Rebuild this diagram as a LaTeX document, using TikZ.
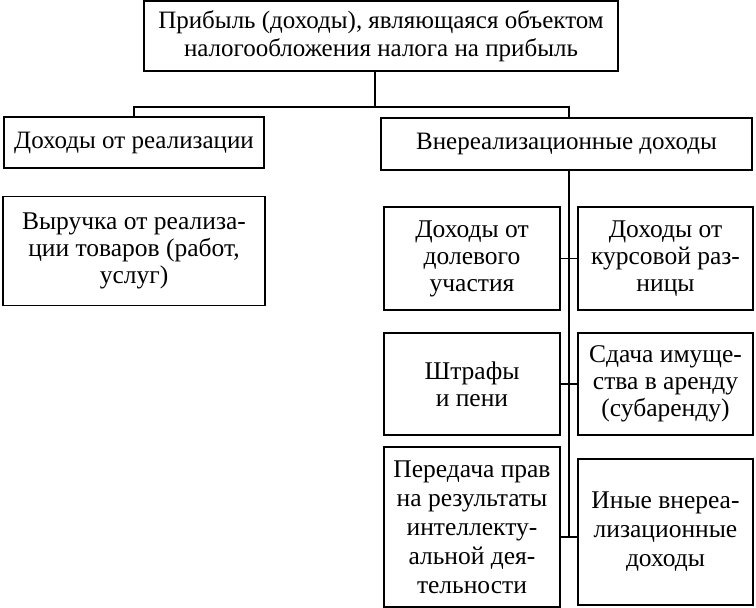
\documentclass[tikz,border=0pt]{standalone}
\usepackage{fontspec}
\setmainfont{Liberation Serif}
\begin{document}
\begin{tikzpicture}[x=1pt,y=-1pt,
  box/.style={draw, line width=1.4pt, align=center, inner sep=0pt, font=\fontsize{25.5}{27}\selectfont},
  big/.style={font=\fontsize{25}{28}\selectfont},
  conn/.style={line width=1.4pt}]
\useasboundingbox[fill=white] (0,0) rectangle (756,608);
\node[box, big, minimum width=474pt, minimum height=70pt] (top) at (381,36) {Прибыль (доходы), являющаяся объектом\\налогообложения налога на прибыль};
\node[box, big, minimum width=260pt, minimum height=51pt] (real) at (134,142.5) {Доходы от реализации};
\node[box, big, minimum width=371pt, minimum height=52pt] (vner) at (566.5,144) {Внереализационные доходы};
\node[box, minimum width=262pt, minimum height=109pt] (vyr) at (134,251) {Выручка от реализа-\\ции товаров (работ,\\услуг)};
\node[box, minimum width=176pt, minimum height=103pt] (dol) at (472,258.5) {Доходы от\\долевого\\участия};
\node[box, minimum width=175pt, minimum height=103pt] (kurs) at (665.5,258.5) {Доходы от\\курсовой раз-\\ницы};
\node[box, minimum width=176pt, minimum height=102pt] (shtr) at (472,384) {Штрафы\\и пени};
\node[box, minimum width=175pt, minimum height=102pt] (arenda) at (665.5,384) {Сдача имуще-\\ства в аренду\\(субаренду)};
\node[box, minimum width=176pt, minimum height=160pt, font=\fontsize{25.5}{29}\selectfont] (prava) at (472,527) {Передача прав\\на результаты\\интеллекту-\\альной дея-\\тельности};
\node[box, minimum width=175pt, minimum height=146pt, font=\fontsize{25.5}{29}\selectfont] (inye) at (665.5,532) {Иные внереа-\\лизационные\\доходы};
\coordinate (bar) at (375,107);
\coordinate (sp) at (569,537);
\draw[conn] (top.south -| bar) -- (bar);
\draw[conn] (real.north) |- (bar) -| (vner.north -| sp);
\draw[conn] (vner.south -| sp) -- (sp);
\draw[conn] (dol.east) -- (kurs.west);
\draw[conn] (shtr.east) -- (arenda.west);
\draw[conn] (prava.east |- sp) -- (inye.west |- sp);
\end{tikzpicture}
\end{document}
